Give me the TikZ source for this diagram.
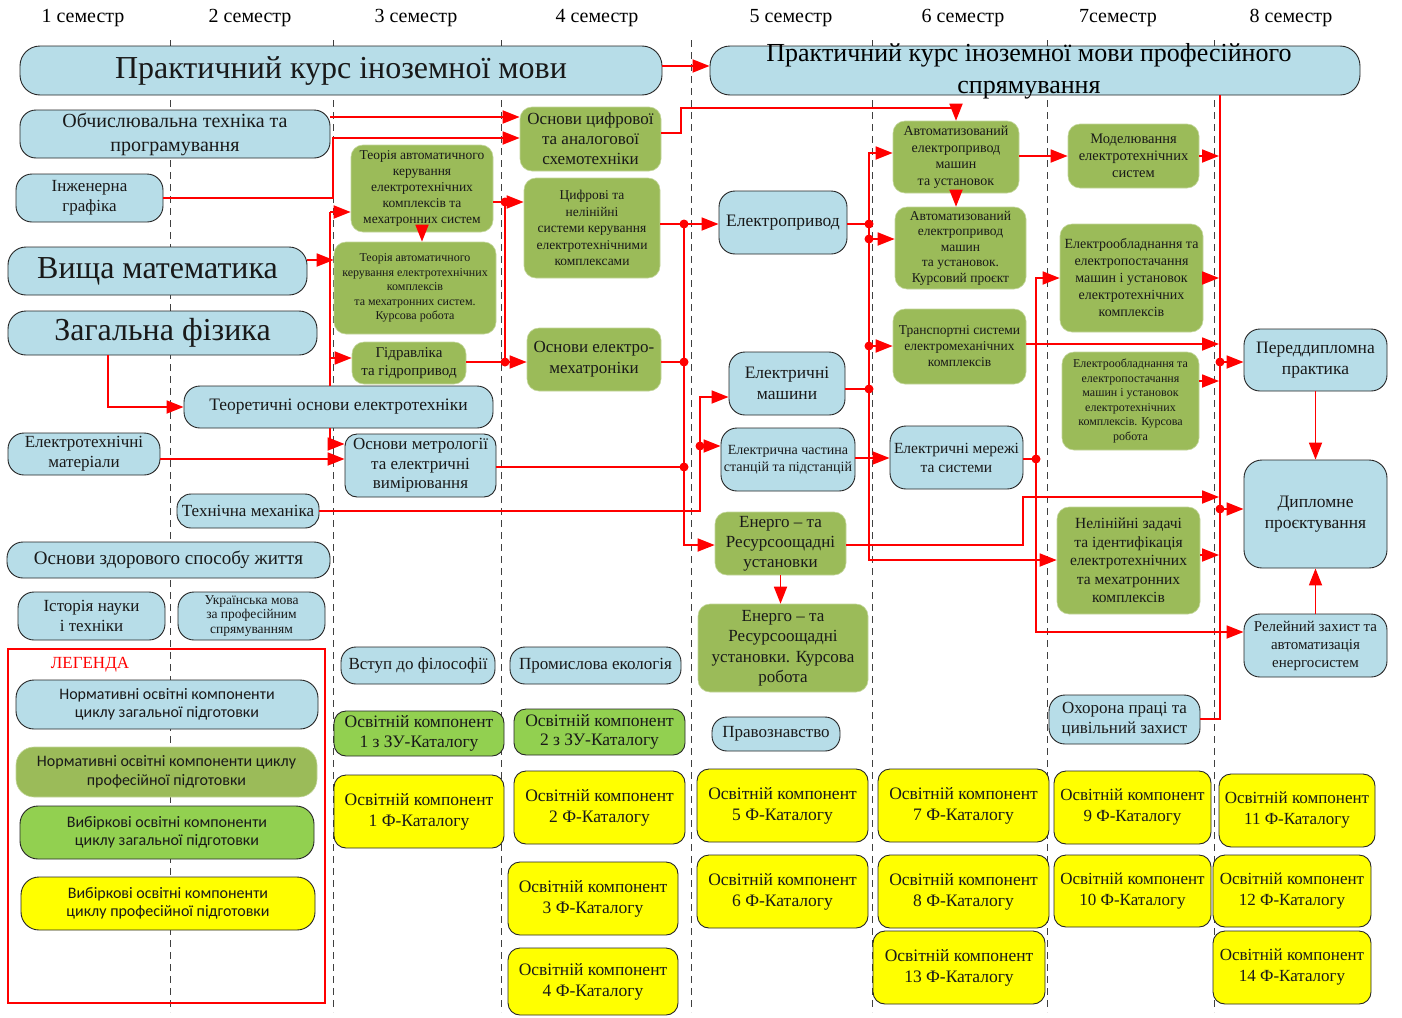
\documentclass[tikz,border=0pt]{standalone}
\usepackage{fontspec}
\setmainfont{Liberation Serif}
\newfontfamily\legfont{Carlito}
\usetikzlibrary{arrows.meta}
\definecolor{cblue}{HTML}{B7DDE8}
\definecolor{colive}{HTML}{9BBB59}
\definecolor{colivee}{HTML}{C3D69B}
\definecolor{cgreen}{HTML}{92D050}
\definecolor{cyel}{HTML}{FFFF00}
\newcommand\fz[2]{\fontsize{#1pt}{#2pt}\selectfont}
\newcommand\bx[7]{%
 \pgfmathsetmacro\bxcx{(#3+#5)/2}\pgfmathsetmacro\bxcy{(#4+#6)/2}%
 \pgfmathsetmacro\bxww{#5-#3}\pgfmathsetmacro\bxhh{#6-#4}%
 \node[#1, minimum width=\bxww pt, minimum height=\bxhh pt] (#2) at (\bxcx,\bxcy) {#7};}
\tikzset{
 box/.style={rounded corners=12pt, align=center, inner sep=1pt, line width=0.9pt, text=black!90},
 bl/.style={box, fill=cblue, draw=black!85},
 ol/.style={box, fill=colive, draw=colivee, line width=0.6pt},
 gr/.style={box, fill=cgreen, draw=black!85},
 ye/.style={box, fill=cyel, draw=black!85},
 lk/.style={draw=red, line width=1.8pt},
 ar/.style={lk, -{Triangle[length=17pt,width=13pt]}},
 sep/.style={draw=black!75, dash pattern=on 7pt off 5pt, line width=1pt},
 hd/.style={font=\fz{20}{22}, inner sep=0pt},
}
\begin{document}
\begin{tikzpicture}[x=1pt,y=-1pt]
\useasboundingbox (0,0) rectangle (1402,1017);
\fill[white] (0,0) rectangle (1402,1017);
% semester separators
\foreach \xx in {170,333,501,691,872,1047,1214} \draw[sep] (\xx,40) -- (\xx,1012);
% headers
\node[hd] (h1) at (83,18) {1 семестр};
\node[hd] (h2) at (250,18) {2 семестр};
\node[hd] (h3) at (416,18) {3 семестр};
\node[hd] (h4) at (597,18) {4 семестр};
\node[hd] (h5) at (791,18) {5 семестр};
\node[hd] (h6) at (963,18) {6 семестр};
\node[hd] (h7) at (1118,18) {7семестр};
\node[hd] (h8) at (1291,18) {8 семестр};
% legend
\draw[red, line width=1.5pt] (8,649) rectangle (325,1003);
\node[text=red, font=\fz{17}{19}, inner sep=0pt] (legt) at (90,665) {ЛЕГЕНДА};
\bx{bl, rounded corners=18pt, font=\legfont\fz{16}{18.5}}{L1}{16}{680}{318}{729}{Нормативні освітні компоненти\\циклу загальної підготовки}
\bx{ol, rounded corners=18pt, font=\legfont\fz{16}{18.5}}{L2}{16}{747}{317}{797}{Нормативні освітні компоненти циклу\\професійної підготовки}
\bx{gr, rounded corners=18pt, font=\legfont\fz{16}{18.5}}{L3}{20}{806}{314}{859}{Вибіркові освітні компоненти\\циклу загальної підготовки}
\bx{ye, rounded corners=18pt, font=\legfont\fz{16}{18.5}}{L4}{21}{877}{315}{930}{Вибіркові освітні компоненти\\циклу професійної підготовки}
% blue boxes
\bx{bl, rounded corners=20pt, font=\fz{32}{36}}{pk1}{20}{46}{662}{95}{Практичний курс іноземної мови}
\bx{bl, rounded corners=20pt}{pk2}{710}{46}{1360}{95}{}
\node[font=\fz{26}{32}, align=center, inner sep=0pt] (pk2t) at (1029,71) {Практичний курс іноземної мови професійного\\спрямування};
\bx{bl, rounded corners=16pt, font=\fz{20}{24}}{obch}{20}{110}{330}{158}{Обчислювальна техніка та\\програмування}
\bx{bl, rounded corners=16pt, font=\fz{17}{20}}{inzh}{16}{174}{163}{222}{Інженерна\\графіка}
\bx{bl, rounded corners=18pt, font=\fz{32}{36}}{vm}{8}{247}{307}{295}{Вища математика}
\bx{bl, rounded corners=18pt, font=\fz{32}{36}}{zf}{8}{311}{317}{355}{Загальна фізика}
\bx{bl, rounded corners=16pt, font=\fz{17.5}{20}}{teor}{184}{386}{493}{428}{Теоретичні основи електротехніки}
\bx{bl, rounded corners=16pt, font=\fz{17}{20}}{elmat}{8}{433}{160}{475}{Електротехнічні\\матеріали}
\bx{bl, font=\fz{17}{19.5}}{metr}{345}{434}{496}{497}{Основи метрології\\та електричні\\вимірювання}
\bx{bl, rounded corners=14pt, font=\fz{17}{20}}{tm}{177}{494}{319}{528}{Технічна механіка}
\bx{bl, rounded corners=16pt, font=\fz{19}{21}}{zsj}{7}{542}{330}{578}{Основи здорового способу життя}
\bx{bl, rounded corners=16pt, font=\fz{17}{20}}{ist}{18}{592}{165}{640}{Історія науки\\і техніки}
\bx{bl, rounded corners=16pt, font=\fz{13.5}{14.5}}{ukr}{178}{592}{325}{640}{Українська мова\\за професійним\\спрямуванням}
\bx{bl, rounded corners=15pt, font=\fz{17}{20}}{fil}{341}{647}{495}{684}{Вступ до філософії}
\bx{bl, rounded corners=15pt, font=\fz{17}{20}}{prom}{510}{647}{681}{684}{Промислова екологія}
\bx{bl, rounded corners=16pt, font=\fz{17.5}{20}}{ep}{719}{191}{847}{254}{Електропривод}
\bx{bl, rounded corners=16pt, font=\fz{17.5}{21}}{elmash}{729}{352}{845}{415}{Електричні\\машини}
\bx{bl, rounded corners=16pt, font=\fz{14}{17}}{elchast}{721}{428}{855}{491}{Електрична частина\\станцій та підстанцій}
\bx{bl, rounded corners=16pt, font=\fz{15.5}{19}}{elmer}{890}{426}{1023}{489}{Електричні мережі\\та системи}
\bx{bl, rounded corners=15pt, font=\fz{17}{19}}{prav}{712}{717}{840}{751}{Правознавство}
\bx{bl, rounded corners=16pt, font=\fz{17}{20}}{ohor}{1049}{695}{1200}{744}{Охорона праці та\\цивільний захист}
\bx{bl, rounded corners=16pt, font=\fz{17.5}{21}}{pd}{1244}{329}{1387}{391}{Переддипломна\\практика}
\bx{bl, rounded corners=18pt, font=\fz{17.5}{21}}{dp}{1244}{460}{1387}{568}{Дипломне\\проєктування}
\bx{bl, rounded corners=16pt, font=\fz{15}{18}}{rz}{1244}{614}{1387}{677}{Релейний захист та\\автоматизація\\енергосистем}
% olive boxes
\bx{ol, font=\fz{17}{20}}{cifr}{520}{107}{661}{171}{Основи цифрової\\та аналогової\\схемотехніки}
\bx{ol, font=\fz{13.5}{16}}{tak}{351}{145}{493}{232}{Теорія автоматичного\\керування\\електротехнічних\\комплексів та\\мехатронних систем}
\bx{ol, font=\fz{12}{14.5}}{kr1}{334}{242}{496}{334}{Теорія автоматичного\\керування електротехнічних\\комплексів\\та мехатронних систем.\\Курсова робота}
\bx{ol, font=\fz{15}{18}}{gidr}{352}{342}{466}{384}{Гідравліка\\та гідропривод}
\bx{ol, font=\fz{13.5}{16.5}}{cnl}{524}{178}{660}{278}{Цифрові та\\нелінійні\\системи керування\\електротехнічними\\комплексами}
\bx{ol, font=\fz{17}{21}}{emech}{527}{328}{661}{391}{Основи електро-\\мехатроніки}
\bx{ol, font=\fz{14}{16.5}}{aep1}{893}{121}{1019}{193}{Автоматизований\\електропривод\\машин\\та установок}
\bx{ol, font=\fz{13.5}{15.5}}{aep2}{895}{207}{1026}{289}{Автоматизований\\електропривод\\машин\\та установок.\\Курсовий проєкт}
\bx{ol, font=\fz{13.5}{16}}{trans}{893}{309}{1026}{384}{Транспортні системи\\електромеханічних\\комплексів}
\bx{ol, font=\fz{17}{20}}{energo}{715}{512}{846}{575}{Енерго – та\\Ресурсоощадні\\установки}
\bx{ol, font=\fz{17}{20.5}}{energo2}{698}{604}{868}{692}{Енерго – та\\Ресурсоощадні\\установки. Курсова\\робота}
\bx{ol, font=\fz{14.5}{17}}{model}{1068}{124}{1199}{188}{Моделювання\\електротехнічних\\систем}
\bx{ol, font=\fz{14}{17}}{eo1}{1060}{224}{1203}{332}{Електрообладнання та\\електропостачання\\машин і установок\\електротехнічних\\комплексів}
\bx{ol, font=\fz{12}{14.5}}{eo2}{1062}{352}{1199}{450}{Електрообладнання та\\електропостачання\\машин і установок\\електротехнічних\\комплексів. Курсова\\робота}
\bx{ol, font=\fz{15.5}{18.5}}{nel}{1057}{507}{1200}{614}{Нелінійні задачі\\та ідентифікація\\електротехнічних\\та мехатронних\\комплексів}
% light green
\bx{gr, font=\fz{17.5}{19.5}}{zu1}{334}{711}{504}{756}{Освітній компонент\\1 з ЗУ-Каталогу}
\bx{gr, font=\fz{17.5}{19.5}}{zu2}{514}{709}{685}{755}{Освітній компонент\\2 з ЗУ-Каталогу}
% yellow
\bx{ye, font=\fz{17.5}{21}}{f1}{334}{775}{504}{848}{Освітній компонент\\1 Ф-Каталогу}
\bx{ye, font=\fz{17.5}{21}}{f2}{514}{771}{685}{844}{Освітній компонент\\2 Ф-Каталогу}
\bx{ye, font=\fz{17.5}{21}}{f3}{508}{862}{678}{935}{Освітній компонент\\3 Ф-Каталогу}
\bx{ye, font=\fz{17.5}{21}}{f4}{508}{948}{678}{1015}{Освітній компонент\\4 Ф-Каталогу}
\bx{ye, font=\fz{17.5}{21}}{f5}{697}{769}{868}{842}{Освітній компонент\\5 Ф-Каталогу}
\bx{ye, font=\fz{17.5}{21}}{f6}{697}{855}{868}{928}{Освітній компонент\\6 Ф-Каталогу}
\bx{ye, font=\fz{17.5}{21}}{f7}{878}{769}{1049}{842}{Освітній компонент\\7 Ф-Каталогу}
\bx{ye, font=\fz{17.5}{21}}{f8}{878}{855}{1049}{928}{Освітній компонент\\8 Ф-Каталогу}
\bx{ye, font=\fz{17.5}{21}}{f13}{873}{931}{1045}{1004}{Освітній компонент\\13 Ф-Каталогу}
\bx{ye, font=\fz{17}{21}}{f9}{1054}{771}{1211}{844}{Освітній компонент\\9 Ф-Каталогу}
\bx{ye, font=\fz{17}{21}}{f10}{1054}{855}{1211}{927}{Освітній компонент\\10 Ф-Каталогу}
\bx{ye, font=\fz{17}{21}}{f11}{1219}{774}{1375}{847}{Освітній компонент\\11 Ф-Каталогу}
\bx{ye, font=\fz{17}{21}}{f12}{1213}{855}{1371}{927}{Освітній компонент\\12 Ф-Каталогу}
\bx{ye, font=\fz{17}{21}}{f14}{1213}{931}{1371}{1004}{Освітній компонент\\14 Ф-Каталогу}
% junctions
\coordinate (ja) at (505,202); \coordinate (jb) at (505,362);
\coordinate (jc) at (684,224); \coordinate (jd) at (684,362); \coordinate (je) at (684,467);
\coordinate (jf) at (700,446);
\coordinate (jg) at (869,224); \coordinate (jh) at (869,239); \coordinate (ji) at (869,346); \coordinate (jj) at (869,389);
\coordinate (jk) at (1036,459);
\coordinate (jl) at (1220,362); \coordinate (jm) at (1220,509);
\coordinate (bus) at (1219,0);
% connectors
\draw[ar] (pk1.east |- 0,66) -- (pk2.west |- 0,66);
\draw[ar] (obch.east |- 0,117) -- (cifr.west |- 0,117);
\draw[ar] (inzh.east) -| (333,138) -- (cifr.west |- 0,138);
\draw[lk] (teor.north -| 330,0) -- (330,212);
\draw[ar] (330,212) -- (tak.west |- 0,212);
\draw[ar] (330,358) -- (gidr.west |- 0,358);
\draw[ar] (teor.south -| 330,0) |- (metr.west |- 0,444);
\draw[ar] (vm.east |- 0,260) -- (kr1.west |- 0,260);
\draw[ar] (zf.south -| 108,0) |- (teor.west);
\draw[ar] (elmat.east |- 0,459) -- (metr.west |- 0,459);
\draw[ar] (tm.east) -| (700,397) -- (elmash.west |- 0,397);
\draw[ar] (jf) -- (elchast.west |- jf);
\draw[ar] (tak.south) -- (tak.south |- kr1.north);
\draw[ar] (tak.east |- ja) -- (cnl.west |- ja);
\draw[lk] (ja) -- (jb);
\draw[ar] (gidr.east |- jb) -- (emech.west |- jb);
\draw[ar] (cifr.east |- 0,133) -- (681,133) -- (681,108) -| (aep1.north);
\draw[ar] (cnl.east |- jc) -- (ep.west |- jc);
\draw[ar] (jc) |- (energo.west |- 0,545);
\draw[lk] (emech.east |- jd) -- (jd);
\draw[lk] (metr.east |- je) -- (je);
\draw[lk] (ep.east |- jg) -- (jg);
\draw[ar] (jg) |- (aep1.west |- 0,153);
\draw[ar] (jg) |- (nel.west |- 0,560);
\draw[ar] (jh) -- (aep2.west |- jh);
\draw[ar] (ji) -- (trans.west |- ji);
\draw[lk] (elmash.east |- jj) -- (jj);
\draw[ar] (elchast.east |- 0,458) -- (elmer.west |- 0,458);
\draw[lk] (elmer.east |- jk) -- (jk);
\draw[ar] (jk) |- (eo1.west |- 0,278);
\draw[ar] (jk) |- (rz.west |- 0,632);
\draw[ar] (energo.east |- 0,545) -| (1023,497) -- (bus |- 0,497);
\draw[ar] (trans.east |- 0,344) -- (bus |- 0,344);
\draw[ar] (aep1.east |- 0,156) -- (model.west |- 0,156);
\draw[ar] (aep1.south) -- (aep1.south |- aep2.north);
\draw[ar] (energo.south) -- (energo.south |- energo2.north);
\draw[ar] (model.east |- 0,156) -- (bus |- 0,156);
\draw[ar] (eo1.east |- 0,278) -- (bus |- 0,278);
\draw[ar] (eo2.east |- 0,381) -- (bus |- 0,381);
\draw[ar] (nel.east |- 0,555) -- (bus |- 0,555);
\draw[lk] (pk2.south -| 1220,0) -- (1220,719) -- (ohor.east |- 0,719);
\draw[ar] (jl) -- (pd.west |- jl);
\draw[ar] (jm) -- (dp.west |- jm);
\draw[ar] (pd.south) -- (pd.south |- dp.north);
\draw[ar] (rz.north) -- (rz.north |- dp.south);
\foreach \p in {ja,jb,jc,jd,je,jf,jg,jh,ji,jj,jk,jl,jm} \fill[red] (\p) circle (4.5pt);
\end{tikzpicture}
\end{document}
